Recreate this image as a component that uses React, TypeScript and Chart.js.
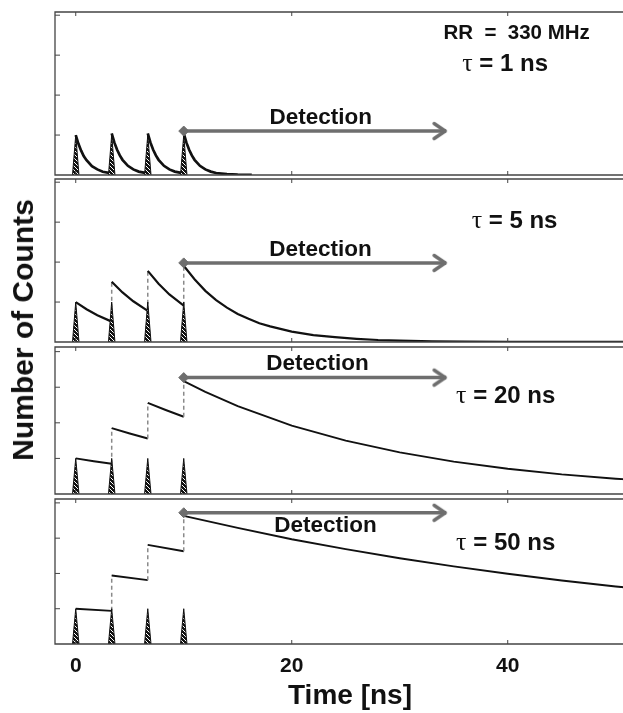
import React, { useEffect, useRef } from "react";
import { Chart, registerables } from "chart.js";

Chart.register(...registerables);

// ---------- data ----------
const pulseTimes = [0, 3.33, 6.67, 10];
const pulseHeight = 1;
const pulseHalfWidth = 0.3;

const tauValues = [1, 5, 20, 50];
const repRateLabel = "RR  =  330 MHz";
const detectionLabel = "Detection";
const detectionStart = 10;
const detectionEnd = 34.3;
const detectionLevels = [1.1, 1.98, 3.27, 3.72];

const xTickValues = [0, 20, 40];
const yTickValues = [1, 2, 3, 4];
const xTitle = "Time [ns]";
const yTitle = "Number of Counts";

// tau = 1 ns
const time1 = [0, 0.25, 0.5, 0.75, 1, 1.5, 2, 2.5, 3.33, 3.33, 3.58, 3.83, 4.08, 4.33, 4.83, 5.33, 5.83, 6.67, 6.67, 6.92, 7.17, 7.42, 7.67, 8.17, 8.67, 9.17, 10, 10, 10.25, 10.5, 10.75, 11, 11.5, 12, 12.5, 13, 14, 15, 16.3];
const counts1 = [1, 0.78, 0.61, 0.47, 0.37, 0.22, 0.14, 0.08, 0.04, 1.04, 0.81, 0.63, 0.49, 0.38, 0.23, 0.14, 0.085, 0.04, 1.04, 0.81, 0.63, 0.49, 0.38, 0.23, 0.14, 0.085, 0.04, 1.04, 0.81, 0.63, 0.49, 0.38, 0.23, 0.14, 0.085, 0.05, 0.02, 0.007, 0.002];

// tau = 5 ns
const time2 = [0, 1, 2, 3.33, 3.33, 4.33, 5.33, 6.67, 6.67, 7.67, 8.67, 10, 10, 11, 12, 13, 14, 15, 16, 17, 18, 20, 22, 24, 26, 28, 30, 33, 36, 40, 45, 51];
const counts2 = [1, 0.82, 0.67, 0.51, 1.51, 1.24, 1.02, 0.78, 1.78, 1.46, 1.19, 0.91, 1.91, 1.57, 1.28, 1.05, 0.86, 0.7, 0.58, 0.47, 0.39, 0.26, 0.17, 0.12, 0.08, 0.05, 0.035, 0.019, 0.011, 0.005, 0.002, 0.001];

// tau = 20 ns
const time3 = [0, 1.67, 3.33, 3.33, 5, 6.67, 6.67, 8.33, 10, 10, 12, 15, 20, 25, 30, 35, 40, 45, 50, 51];
const counts3 = [1, 0.92, 0.85, 1.85, 1.7, 1.56, 2.56, 2.36, 2.17, 3.17, 2.87, 2.47, 1.92, 1.5, 1.17, 0.91, 0.71, 0.55, 0.43, 0.41];

// tau = 50 ns
const time4 = [0, 3.33, 3.33, 6.67, 6.67, 10, 10, 15, 20, 25, 30, 35, 40, 45, 50, 51];
const counts4 = [1, 0.94, 1.94, 1.81, 2.81, 2.63, 3.63, 3.29, 2.97, 2.69, 2.43, 2.2, 1.99, 1.8, 1.63, 1.6];

// ---------- layout / style ----------
const SANS = '"Liberation Sans", Arial, sans-serif';
const SERIF = '"Liberation Serif", "DejaVu Serif", serif';
const CANVAS_W = 651;
const PAGE_W = 623;
const PAGE_H = 713;
const PAD = 8;
const X_MIN = -1.92;
const X_MAX = 52.71;
const X_AXIS_HEIGHT = 69;

type TextItem = { kind: "plain" | "tau"; text: string; x: number; y: number; size: number };

const PANELS = [
  {
    top: 12, bottom: 175, yMax: 4.08, lineWidth: 2.7, times: time1, counts: counts1,
    texts: [
      { kind: "plain", text: repRateLabel, x: 40.82, y: 3.59, size: 20.5 },
      { kind: "tau", text: " = " + tauValues[0] + " ns", x: 39.76, y: 2.82, size: 24 },
      { kind: "plain", text: detectionLabel, x: 22.69, y: 1.48, size: 22.5 },
    ] as TextItem[],
  },
  {
    top: 179, bottom: 342, yMax: 4.08, lineWidth: 2.2, times: time2, counts: counts2,
    texts: [
      { kind: "tau", text: " = " + tauValues[1] + " ns", x: 40.63, y: 3.08, size: 24 },
      { kind: "plain", text: detectionLabel, x: 22.67, y: 2.35, size: 22.5 },
    ] as TextItem[],
  },
  {
    top: 347, bottom: 494, yMax: 4.13, lineWidth: 1.9, times: time3, counts: counts3,
    texts: [
      { kind: "plain", text: detectionLabel, x: 22.39, y: 3.71, size: 22.5 },
      { kind: "tau", text: " = " + tauValues[2] + " ns", x: 39.81, y: 2.81, size: 24 },
    ] as TextItem[],
  },
  {
    top: 499, bottom: 644, yMax: 4.11, lineWidth: 1.9, times: time4, counts: counts4,
    texts: [
      { kind: "plain", text: detectionLabel, x: 23.13, y: 3.4, size: 22.5 },
      { kind: "tau", text: " = " + tauValues[3] + " ns", x: 39.81, y: 2.92, size: 24 },
    ] as TextItem[],
  },
];

function makeHatch(): CanvasPattern | string {
  const c = document.createElement("canvas");
  c.width = 4;
  c.height = 4;
  const g = c.getContext("2d");
  if (!g) return "#111";
  g.fillStyle = "#111";
  g.fillRect(0, 0, 4, 4);
  g.strokeStyle = "#ffffff";
  g.lineWidth = 1;
  g.beginPath();
  g.moveTo(0, 0);
  g.lineTo(4, 4);
  g.stroke();
  return g.createPattern(c, "repeat") || "#111";
}

function makeChevron(): HTMLCanvasElement {
  const c = document.createElement("canvas");
  c.width = 30;
  c.height = 24;
  const g = c.getContext("2d")!;
  g.strokeStyle = "#6e6e6e";
  g.lineWidth = 3.5;
  g.lineCap = "round";
  g.lineJoin = "round";
  g.beginPath();
  g.moveTo(3, 12 - 7.5);
  g.lineTo(14, 12);
  g.lineTo(3, 12 + 7.5);
  g.stroke();
  return c;
}

const framePlugin = {
  id: "panelFrame",
  afterDraw(chart: any) {
    const { ctx, chartArea: a, scales } = chart;
    const xs = scales.x;
    const ys = scales.y;
    ctx.save();
    ctx.strokeStyle = "#444";
    ctx.lineWidth = 1.3;
    ctx.beginPath();
    ctx.moveTo(a.right, a.top);
    ctx.lineTo(a.left, a.top);
    ctx.lineTo(a.left, a.bottom);
    ctx.lineTo(a.right, a.bottom);
    ctx.stroke();
    ctx.lineWidth = 1;
    ctx.beginPath();
    xTickValues.forEach((v) => {
      const px = xs.getPixelForValue(v);
      ctx.moveTo(px, a.top);
      ctx.lineTo(px, a.top + 4);
      ctx.moveTo(px, a.bottom);
      ctx.lineTo(px, a.bottom - 4);
    });
    yTickValues.forEach((v) => {
      const py = ys.getPixelForValue(v);
      if (py > a.top) {
        ctx.moveTo(a.left, py);
        ctx.lineTo(a.left + 5, py);
      }
    });
    ctx.stroke();
    ctx.restore();
  },
};

function makeTextPlugin(items: TextItem[]) {
  return {
    id: "panelText",
    afterDatasetsDraw(chart: any) {
      const { ctx, scales } = chart;
      ctx.save();
      ctx.fillStyle = "#111";
      items.forEach((it) => {
        const cx = scales.x.getPixelForValue(it.x);
        const cy = scales.y.getPixelForValue(it.y);
        const base = cy + 0.358 * it.size;
        const bold = `bold ${it.size}px ${SANS}`;
        ctx.textBaseline = "alphabetic";
        if (it.kind === "plain") {
          ctx.font = bold;
          ctx.textAlign = "center";
          ctx.fillText(it.text, cx, base);
        } else {
          const tauFont = `${it.size + 2}px ${SERIF}`;
          ctx.font = tauFont;
          const w1 = ctx.measureText("τ").width;
          ctx.font = bold;
          const w2 = ctx.measureText(it.text).width;
          const x0 = cx - (w1 + w2) / 2;
          ctx.textAlign = "left";
          ctx.font = tauFont;
          ctx.fillText("τ", x0, base);
          ctx.font = bold;
          ctx.fillText(it.text, x0 + w1, base);
        }
      });
      ctx.restore();
    },
  };
}

function Panel({ index }: { index: number }) {
  const ref = useRef<HTMLCanvasElement>(null);
  const cfg = PANELS[index];
  const isBottom = index === PANELS.length - 1;
  const top = cfg.top - PAD;
  const height = isBottom ? PAGE_H - top : cfg.bottom - cfg.top + 2 * PAD;

  useEffect(() => {
    if (!ref.current) return;
    const hatch = makeHatch();
    const chevron = makeChevron();
    const lvl = detectionLevels[index];

    const datasets: any[] = [
      {
        data: [
          { x: detectionStart, y: lvl },
          { x: detectionEnd, y: lvl },
        ],
        borderColor: "#6e6e6e",
        borderWidth: 3.5,
        pointStyle: ["rectRot", chevron],
        pointRadius: [5, 5],
        pointBackgroundColor: "#6e6e6e",
        pointBorderColor: "#6e6e6e",
        pointBorderWidth: 1,
        fill: false,
      },
      ...pulseTimes.map((t) => ({
        data: [
          { x: t - pulseHalfWidth, y: 0 },
          { x: t, y: pulseHeight },
          { x: t + pulseHalfWidth, y: 0 },
        ],
        borderColor: "#111",
        borderWidth: 1,
        backgroundColor: hatch,
        fill: "origin",
        pointRadius: 0,
      })),
      {
        data: cfg.times.map((t, i) => ({ x: t, y: cfg.counts[i] })),
        borderColor: "#111",
        borderWidth: cfg.lineWidth,
        pointRadius: 0,
        fill: false,
        segment: {
          borderColor: (c: any) => (c.p0.parsed.x === c.p1.parsed.x ? "#8a8a8a" : undefined),
          borderDash: (c: any) => (c.p0.parsed.x === c.p1.parsed.x ? [4, 3] : undefined),
          borderWidth: (c: any) => (c.p0.parsed.x === c.p1.parsed.x ? 1.5 : undefined),
        },
      },
    ];

    const chart = new Chart(ref.current, {
      type: "line",
      data: { datasets },
      options: {
        responsive: false,
        animation: false,
        events: [],
        elements: { line: { tension: 0 } },
        layout: { padding: { left: 55, right: 0, top: PAD, bottom: isBottom ? 0 : PAD } },
        plugins: { legend: { display: false }, tooltip: { enabled: false } },
        scales: {
          x: {
            type: "linear",
            min: X_MIN,
            max: X_MAX,
            display: isBottom,
            afterBuildTicks: (s: any) => {
              s.ticks = xTickValues.map((v) => ({ value: v }));
            },
            afterFit: (s: any) => {
              if (isBottom) s.height = X_AXIS_HEIGHT;
            },
            grid: { display: false, drawTicks: false },
            border: { display: false },
            ticks: {
              color: "#111",
              padding: 10,
              font: { family: SANS, size: 21, weight: "bold" },
            },
            title: {
              display: true,
              text: xTitle,
              color: "#111",
              padding: { top: 0, bottom: 0 },
              font: { family: SANS, size: 28, weight: "bold" },
            },
          },
          y: { type: "linear", min: 0, max: cfg.yMax, display: false },
        },
      } as any,
      plugins: [framePlugin, makeTextPlugin(cfg.texts)],
    });
    return () => chart.destroy();
  }, []);

  return (
    <canvas
      ref={ref}
      width={CANVAS_W}
      height={height}
      style={{ position: "absolute", left: 0, top, width: CANVAS_W, height }}
    />
  );
}

export default function App() {
  return (
    <div
      style={{
        position: "fixed",
        left: 0,
        top: 0,
        width: PAGE_W,
        height: PAGE_H,
        overflow: "hidden",
        background: "#fff",
      }}
    >
      {PANELS.map((_, i) => (
        <Panel key={i} index={i} />
      ))}
      <div
        style={{
          position: "absolute",
          left: 22.5,
          top: 330,
          transform: "translate(-50%, -50%) rotate(-90deg)",
          fontFamily: SANS,
          fontWeight: "bold",
          fontSize: 30,
          lineHeight: "30px",
          whiteSpace: "nowrap",
          color: "#111",
        }}
      >
        {yTitle}
      </div>
    </div>
  );
}
